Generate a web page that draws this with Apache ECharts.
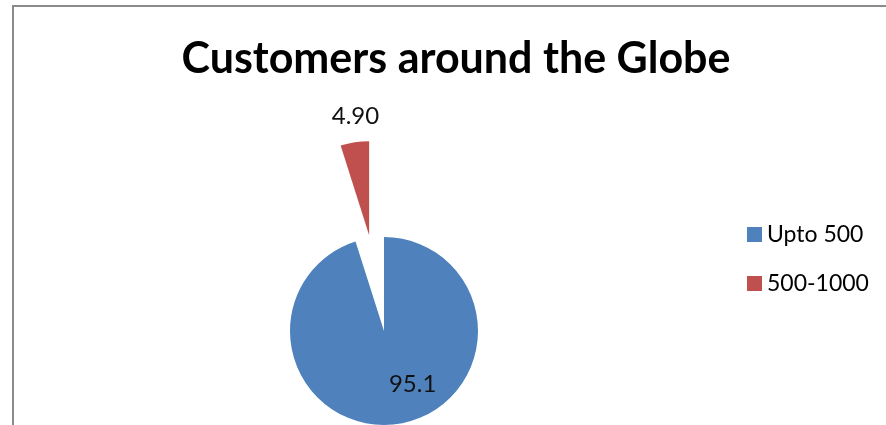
<!DOCTYPE html>
<html>
<head>
<meta charset="utf-8">
<script src="https://cdn.jsdelivr.net/npm/echarts@6/dist/echarts.min.js"></script>
<style>
  html, body { margin: 0; padding: 0; background: #fff; }
  #frame { position: absolute; left: 12px; top: 5px; width: 880px; height: 430px;
           border-left: 2px solid #8a8a8a; border-top: 2px solid #8a8a8a; }
  #chart { position: absolute; left: 0; top: 0; width: 886px; height: 425px; }
</style>
</head>
<body>
<div id="frame"></div>
<div id="chart"></div>
<script>
const titleText = 'Customers around the Globe';
const categories = ['Upto 500', '500-1000'];
const values = [95.1, 4.90];
const labelTexts = ['95.1', '4.90'];
const colors = ['#4F81BD', '#C0504D'];

const chart = echarts.init(document.getElementById('chart'), null, { renderer: 'canvas' });
const labelShift = [[21, 4], [-6, -69]];

chart.setOption({
  animation: false,
  title: {
    text: titleText,
    left: 451, textAlign: 'center',
    top: 33,
    textStyle: { fontFamily: 'Lato', fontWeight: 'bold', fontSize: 43, color: '#000' }
  },
  legend: {
    orient: 'vertical',
    left: 747, top: 223,
    itemWidth: 15, itemHeight: 15,
    itemGap: 26,
    icon: 'rect',
    selectedMode: false,
    padding: 0,
    textStyle: { fontFamily: 'Lato', fontSize: 23, color: '#000' },
    data: categories
  },
  series: [{
    type: 'pie',
    center: [384, 331],
    radius: 94,
    startAngle: 90,
    clockwise: true,
    selectedMode: 'multiple',
    selectedOffset: 97,
    emphasis: { disabled: true },
    label: {
      show: true,
      position: 'inside',
      fontFamily: 'Lato', fontSize: 24, color: '#111',
      formatter: p => labelTexts[p.dataIndex]
    },
    labelLine: { show: false },
    labelLayout: p => ({ dx: labelShift[p.dataIndex][0], dy: labelShift[p.dataIndex][1] }),
    data: categories.map((c, i) => ({
      name: c, value: values[i], selected: i === 1,
      itemStyle: { color: colors[i] }
    }))
  }]
});
</script>
</body>
</html>
